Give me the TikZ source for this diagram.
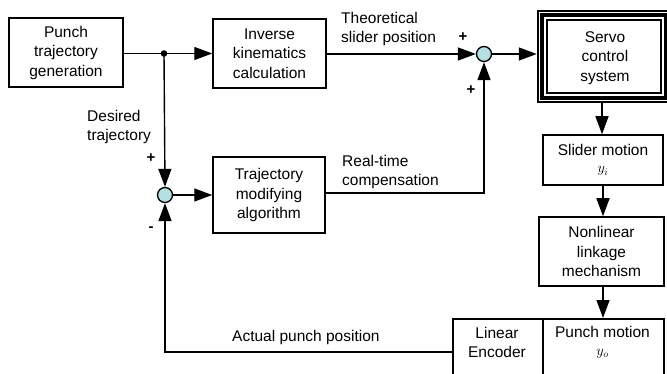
\documentclass[tikz,border=0pt]{standalone}
\usepackage{fontspec}
\setmainfont{Liberation Sans}
\usetikzlibrary{arrows.meta}
\definecolor{sumfill}{RGB}{180,224,228}
\tikzset{
  every node/.style={font=\fontsize{15.5}{19.5}\selectfont},
  blk/.style={draw, line width=1.5pt, rectangle, inner sep=0pt, align=center},
  sumc/.style={draw, line width=1.3pt, circle, fill=sumfill, minimum size=15pt, inner sep=0pt},
  conn/.style={line width=1.4pt},
  arr/.style={conn, -{Triangle[length=18pt,width=13pt]}},
  lbl/.style={inner sep=0pt, align=left},
  sgn/.style={inner sep=0pt, font=\fontsize{15}{15}\selectfont\bfseries}
}
\begin{document}
\begin{tikzpicture}[x=1pt,y=-1pt]
\useasboundingbox (0,0) rectangle (667,374);
\clip (0,0) rectangle (667,374);
% blocks
\node[blk, minimum width=114pt, minimum height=69pt] (pg) at (66,52.5) {Punch\\trajectory\\generation};
\node[blk, minimum width=113pt, minimum height=69pt] (ik) at (269.5,53.5) {Inverse\\kinematics\\calculation};
\node[blk, minimum width=112pt, minimum height=76pt] (tm) at (269,195) {Trajectory\\modifying\\algorithm};
% servo frame
\node[draw, line width=2.4pt, rectangle, inner sep=0pt, minimum width=132pt, minimum height=91pt] (sc) at (604,56.5) {};
\draw[line width=4pt] ([xshift=5pt,yshift=-5pt]sc.north west) rectangle ([xshift=-5pt,yshift=5pt]sc.south east);
\draw[line width=1.5pt] ([xshift=10pt,yshift=-10pt]sc.north west) rectangle ([xshift=-10pt,yshift=10pt]sc.south east);
\node[align=center, inner sep=0pt] (sct) at (605,58) {Servo\\control\\system};
\node[blk, minimum width=120pt, minimum height=50pt] (sm) at (603,160) {Slider motion\\[-2pt]{\fontsize{14}{14}\selectfont$y_i$}};
\node[blk, minimum width=125pt, minimum height=69pt] (nl) at (601.5,251.5) {Nonlinear\\linkage\\mechanism};
\node[blk, minimum width=90pt, minimum height=72pt, anchor=north west] (le) at (452,318) {};
\node[blk, minimum width=121pt, minimum height=72pt, anchor=north west] (pm) at (542,318) {};
\node[align=center, inner sep=0pt] (let) at (497,342.5) {Linear\\Encoder};
\node[align=center, inner sep=0pt] (pmt) at (602.5,342.5) {Punch motion\\[-2pt]{\fontsize{14}{14}\selectfont$y_o$}};
% sums
\node[sumc] (s1) at (165,195) {};
\node[sumc] (s2) at (484,54) {};
% junction
\coordinate (j) at (164,53.5);
\fill (j) circle (3.3pt);
% connectors
\draw[arr] (pg.east |- j) -- (ik.west |- j);
\draw[arr] (j) -- (s1.north);
\draw[arr] (s1.east) -- (tm.west |- s1);
\draw[arr] (ik.east |- s2) -- (s2.west);
\draw[arr] (s2.east) -- (sc.west |- s2);
\coordinate (rc) at (484,193);
\draw[arr] (tm.east |- rc) -- (rc) -- (s2.south);
\draw[arr] (sc.south -| 602,0) -- (sm.north -| 602,0);
\draw[arr] (sm.south -| 603,0) -- (nl.north -| 603,0);
\draw[arr] (nl.south -| 603,0) -- (pm.north -| 603,0);
\coordinate (fb) at (165,352);
\draw[arr] (le.west |- fb) -- (fb) -- (s1.south);
% labels
\node[lbl, anchor=north west] at (87,110) {Desired\\trajectory};
\node[sgn] at (151,158) {+};
\node[sgn] at (151,229) {-};
\node[lbl, anchor=north west] at (341,12) {Theoretical\\slider position};
\node[sgn] at (463,37) {+};
\node[sgn] at (471,90) {+};
\node[lbl, anchor=north west] at (342,155) {Real-time\\compensation};
\node[lbl, anchor=west] at (232,337) {Actual punch position};
\end{tikzpicture}
\end{document}
